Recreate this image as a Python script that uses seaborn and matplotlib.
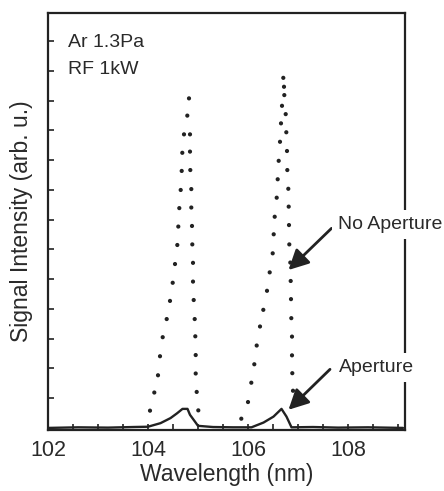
import numpy as np
import pandas as pd
import matplotlib
matplotlib.use("Agg")
import matplotlib.pyplot as plt
import seaborn as sns

# ---------------- data ----------------
# "No Aperture" (dotted) – two peaks
noap_wl = [104.04, 104.126, 104.20, 104.24, 104.294, 104.374, 104.44, 104.494, 104.54,
           104.586, 104.606, 104.626, 104.654, 104.674, 104.686, 104.72, 104.786, 104.82,
           104.84, 104.84, 104.846, 104.866, 104.866, 104.88, 104.886, 104.90, 104.90,
           104.914, 104.934, 104.946, 104.954, 104.954, 104.974, 105.006,
           105.866, 106.00, 106.066, 106.126, 106.174, 106.24, 106.306, 106.38, 106.434,
           106.494, 106.514, 106.534, 106.574, 106.594, 106.614, 106.64, 106.66, 106.68,
           106.706, 106.72, 106.726, 106.754, 106.766, 106.78, 106.786, 106.806, 106.814,
           106.82, 106.826, 106.846, 106.854, 106.86, 106.866, 106.88, 106.88, 106.886,
           106.90]
noap_int = [0.58, 1.19, 1.77, 2.41, 3.05, 3.66, 4.27, 4.88, 5.51,
            6.15, 6.77, 7.39, 8.00, 8.64, 9.25, 9.87, 10.50, 11.08,
            9.87, 9.29, 8.67, 8.03, 7.41, 6.79, 6.17, 5.55, 4.92,
            4.30, 3.66, 3.08, 2.45, 1.83, 1.21, 0.59,
            0.31, 0.87, 1.52, 2.14, 2.77, 3.41, 3.97, 4.61, 5.23,
            5.87, 6.51, 7.10, 7.74, 8.36, 8.98, 9.62, 10.24, 10.83,
            11.77, 11.47, 11.19, 10.55, 9.94, 9.31, 8.67, 8.04, 7.44,
            6.82, 6.17, 5.56, 4.94, 4.33, 3.69, 3.07, 2.44, 1.84,
            1.25]

# "Aperture" (solid line)
ap_wl = [102.0, 102.6, 103.2, 103.7, 104.0, 104.25, 104.45, 104.58, 104.69, 104.79,
         104.84, 104.94, 105.0, 105.3, 105.7, 106.07, 106.31, 106.51, 106.67, 106.77,
         106.87, 107.3, 107.8, 108.4, 109.1]
ap_int = [0.0, 0.02, 0.01, 0.03, 0.04, 0.16, 0.33, 0.49, 0.64, 0.64,
          0.44, 0.21, 0.07, 0.03, 0.02, 0.02, 0.18, 0.38, 0.64, 0.38,
          0.02, 0.03, 0.01, 0.02, 0.0]

xtick_labels = ["102", "104", "106", "108"]

df_noap = pd.DataFrame({"wl": noap_wl, "sig": noap_int})
df_ap = pd.DataFrame({"wl": ap_wl, "sig": ap_int})

# ---------------- figure ----------------
sns.set_style("white")
plt.rcParams["font.family"] = ["Liberation Sans", "DejaVu Sans"]
ink = "#222222"
txt = "#2a2a2a"

fig = plt.figure(figsize=(4.44, 4.91), dpi=100)
ax = fig.add_axes([48 / 444, 61 / 491, 357 / 444, 417 / 491])

sns.scatterplot(data=df_noap, x="wl", y="sig", ax=ax, s=9, color=ink,
                edgecolor="none", marker="o", legend=False, zorder=3)
sns.lineplot(data=df_ap, x="wl", y="sig", ax=ax, sort=False, color=ink,
             lw=1.7, legend=False, zorder=3)

ax.set_xlim(102, 109.14)
ax.set_ylim(-0.07, 13.95)

xt = np.arange(102, 109.01, 0.5)
ax.set_xticks(xt)
ax.set_xticklabels([str(int(v)) if (v % 2 == 0) else "" for v in xt])
ax.set_yticks(np.arange(1, 14, 1))
ax.set_yticklabels([])
ax.tick_params(axis="both", direction="in", length=4, width=1.2, color=ink)
ax.tick_params(axis="x", pad=7, labelsize=15.5, labelcolor=txt)
ax.tick_params(axis="y", left=True)
ax.tick_params(axis="x", bottom=True)

for sp in ax.spines.values():
    sp.set_visible(True)
    sp.set_linewidth(1.6)
    sp.set_color(ink)

ax.set_xlabel("Wavelength (nm)", fontsize=16.5, color=txt, labelpad=2)
ax.set_ylabel("Signal Intensity (arb. u.)", fontsize=16.5, color=txt, labelpad=7)

# condition text
ax.text(102.39, 12.8, "Ar 1.3Pa", fontsize=14, color=txt, va="baseline", ha="left")
ax.text(102.39, 11.9, "RF 1kW", fontsize=14, color=txt, va="baseline", ha="left")

# labels with white backgrounds that break the right spine
box = dict(boxstyle="square,pad=0.3", fc="white", ec="none")
ax.text(107.8, 6.68, "No Aperture", fontsize=14, color=txt, va="baseline",
        ha="left", bbox=box, clip_on=False, zorder=5)
ax.text(107.82, 1.89, "Aperture", fontsize=14, color=txt, va="baseline",
        ha="left", bbox=box, clip_on=False, zorder=5)

arrow = dict(arrowstyle="-|>,head_length=0.55,head_width=0.28", color=ink,
             lw=2.0, mutation_scale=22, shrinkA=0, shrinkB=0)
ax.annotate("", xy=(106.81, 5.31), xytext=(107.67, 6.71), arrowprops=arrow)
ax.annotate("", xy=(106.81, 0.61), xytext=(107.64, 1.97), arrowprops=arrow)

fig.savefig("out.png", dpi=100, facecolor="white")
